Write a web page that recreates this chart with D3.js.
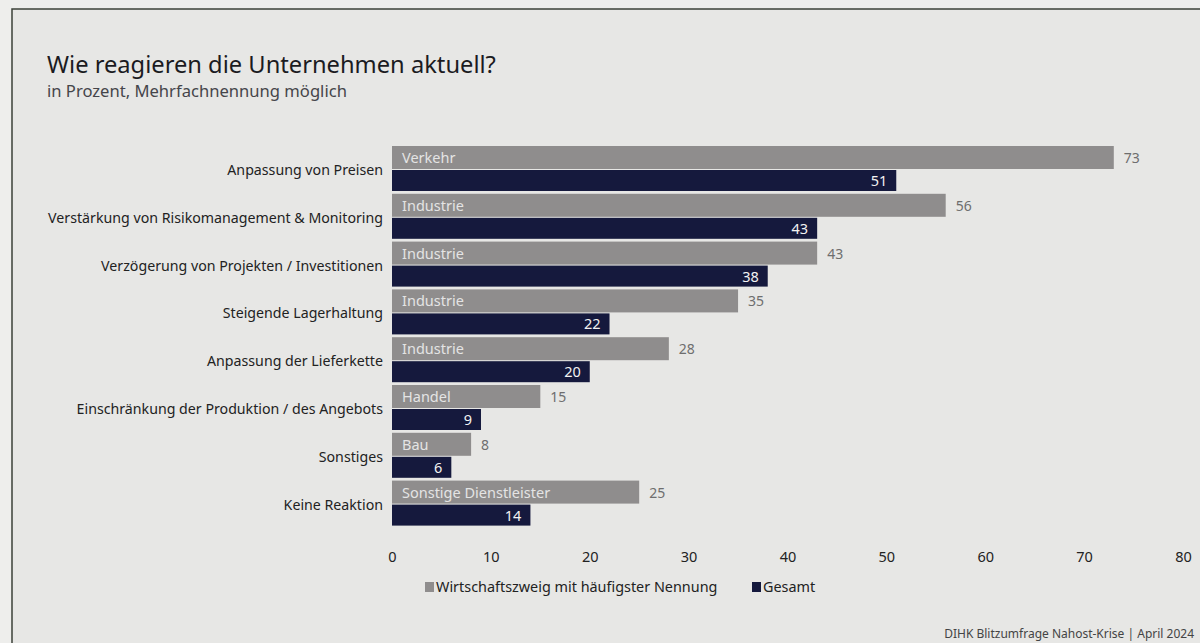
<!DOCTYPE html>
<html>
<head>
<meta charset="utf-8">
<script src="https://cdn.jsdelivr.net/npm/d3@7"></script>
<style>
  body { margin: 0; background: #eeeeec; }
  svg { display: block; font-family: "Noto Sans", sans-serif; }
</style>
</head>
<body>
<div id="chart"></div>
<script>
// data
const categories = [
  "Anpassung von Preisen",
  "Verstärkung von Risikomanagement & Monitoring",
  "Verzögerung von Projekten / Investitionen",
  "Steigende Lagerhaltung",
  "Anpassung der Lieferkette",
  "Einschränkung der Produktion / des Angebots",
  "Sonstiges",
  "Keine Reaktion"
]
const sectors = ["Verkehr", "Industrie", "Industrie", "Industrie", "Industrie", "Handel", "Bau", "Sonstige Dienstleister"]
const sectorValues = [73, 56, 43, 35, 28, 15, 8, 25]
const totalValues = [51, 43, 38, 22, 20, 9, 6, 14]
const xTicks = [0, 10, 20, 30, 40, 50, 60, 70, 80]
const legendLabels = ["Wirtschaftszweig mit häufigster Nennung", "Gesamt"]

const W = 1200, H = 643
const grey = "#8f8d8d", navy = "#15193d"

const svg = d3.select("#chart")
  .append("svg")
    .attr("width", W)
    .attr("height", H)

// paper + frame
svg.append("rect")
  .attr("x", 12).attr("y", 9)
  .attr("width", W).attr("height", H)
  .style("fill", "#e7e7e5")
svg.append("path")
  .attr("d", `M12,${H} V9 H${W}`)
  .style("fill", "none")
  .style("stroke", "#3c4238")
  .style("stroke-width", 1.5)

// title
svg.append("text")
  .attr("x", 47).attr("y", 73)
  .attr("font-size", 23.7)
  .attr("fill", "#1b1b1f")
  .text("Wie reagieren die Unternehmen aktuell?")
svg.append("text")
  .attr("x", 47).attr("y", 97)
  .attr("font-size", 16.6)
  .attr("fill", "#45454a")
  .text("in Prozent, Mehrfachnennung möglich")

// scales
const x = d3.scaleLinear()
  .domain([0, 80])
  .range([392, 1183])

const y = d3.scaleBand()
  .domain(categories)
  .range([146, 146 + 47.8 * categories.length])

const greyH = 23, navyH = 21

const rows = categories.map((c, i) => ({
  cat: c, sector: sectors[i], s: sectorValues[i], t: totalValues[i]
}))

const g = svg.append("g")

// category labels
g.selectAll(".cat")
  .data(rows)
  .enter()
  .append("text")
    .attr("x", 383)
    .attr("y", d => y(d.cat) + greyH + 6)
    .attr("text-anchor", "end")
    .attr("font-size", 14.2)
    .attr("fill", "#222")
    .text(d => d.cat)

// grey bars
g.selectAll(".sbar")
  .data(rows)
  .enter()
  .append("rect")
    .attr("x", x(0))
    .attr("y", d => y(d.cat))
    .attr("width", d => x(d.s) - x(0))
    .attr("height", greyH)
    .style("fill", grey)

// navy bars
g.selectAll(".tbar")
  .data(rows)
  .enter()
  .append("rect")
    .attr("x", x(0))
    .attr("y", d => y(d.cat) + greyH + 1)
    .attr("width", d => x(d.t) - x(0))
    .attr("height", navyH)
    .style("fill", navy)

// sector names inside grey bars
g.selectAll(".sector")
  .data(rows)
  .enter()
  .append("text")
    .attr("x", x(0) + 10)
    .attr("y", d => y(d.cat) + 17)
    .attr("font-size", 14.5)
    .attr("fill", "#e4e4e4")
    .text(d => d.sector)

// grey values outside
g.selectAll(".sval")
  .data(rows)
  .enter()
  .append("text")
    .attr("x", d => x(d.s) + 10)
    .attr("y", d => y(d.cat) + 17)
    .attr("font-size", 14)
    .attr("fill", "#6e6e6e")
    .text(d => d.s)

// navy values inside
g.selectAll(".tval")
  .data(rows)
  .enter()
  .append("text")
    .attr("x", d => x(d.t) - 9)
    .attr("y", d => y(d.cat) + greyH + 17)
    .attr("text-anchor", "end")
    .attr("font-size", 14.5)
    .attr("fill", "#f2f2f2")
    .text(d => d.t)

// x axis, labels only
const xAxis = svg.append("g")
  .attr("transform", "translate(0,547)")
  .call(d3.axisBottom(x).tickValues(xTicks).tickSize(0).tickPadding(0))
xAxis.select(".domain").remove()
xAxis.selectAll("text")
  .attr("font-size", 14.5)
  .attr("font-family", "Noto Sans, sans-serif")
  .attr("fill", "#222")
  .attr("dy", "1em")

// legend
const legend = svg.append("g").attr("transform", "translate(425,592)")
const legendX = [0, 327]
const legendCol = [grey, navy]
legendLabels.forEach((l, i) => {
  legend.append("rect")
    .attr("x", legendX[i]).attr("y", -10)
    .attr("width", 9).attr("height", 10)
    .style("fill", legendCol[i])
  legend.append("text")
    .attr("x", legendX[i] + 11).attr("y", 0)
    .attr("font-size", 14.4)
    .attr("fill", "#222")
    .text(l)
})

// source line
svg.append("text")
  .attr("x", 1194).attr("y", 638)
  .attr("text-anchor", "end")
  .attr("font-size", 12)
  .attr("fill", "#444")
  .text("DIHK Blitzumfrage Nahost-Krise   |   April 2024")
</script>
</body>
</html>
